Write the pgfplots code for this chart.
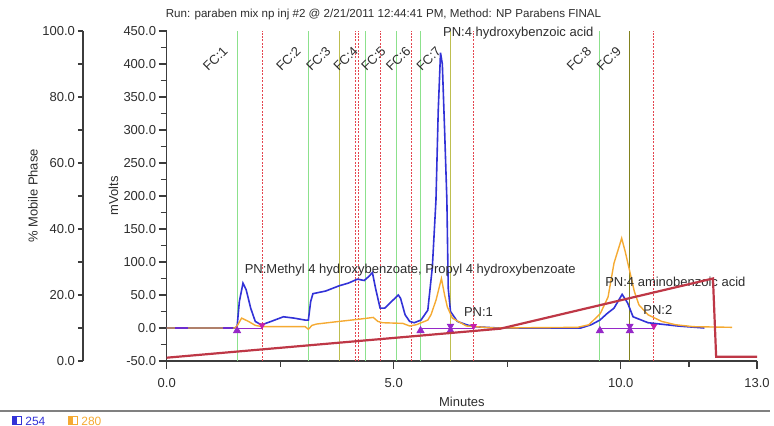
\documentclass[border=0pt]{standalone}
\usepackage{fontspec}
\setmainfont{Liberation Sans}
\usepackage{pgfplots}
\pgfplotsset{compat=1.18}
\definecolor{c254}{RGB}{50,50,215}
\definecolor{c280}{RGB}{245,170,50}
\definecolor{fcgreen}{RGB}{140,225,140}
\definecolor{fcred}{RGB}{228,70,80}
\definecolor{olivel}{RGB}{190,190,80}
\definecolor{olived}{RGB}{130,130,30}
\definecolor{mp}{RGB}{190,55,70}
\definecolor{pbase}{RGB}{150,40,200}
\definecolor{pmag}{RGB}{200,30,170}
\definecolor{axgray}{RGB}{60,60,60}
\definecolor{txt}{RGB}{45,45,45}
\newcommand{\sfs}{\fontsize{6.5}{7.5}\selectfont}
\begin{document}
\begin{tikzpicture}[x=1pt,y=1pt]
\useasboundingbox (-83.35,-32.5) rectangle (303.65,180.5);
\pgfplotsset{
  common/.style={
    at={(0,0)}, anchor=south west, scale only axis,
    width=295.15pt, height=165pt,
    xmin=0, xmax=13,
    axis line style={axgray, line width=0.7pt, -},
    tick align=outside, major tick length=4pt, minor tick length=3pt,
    tick style={axgray, line width=0.6pt},
    ticklabel style={font=\sfs, text=txt},
    /pgf/number format/assume math mode=true,
    yticklabel style={/pgf/number format/fixed, /pgf/number format/fixed zerofill, /pgf/number format/precision=1},
    label style={font=\sfs, text=txt},
  }
}
\begin{axis}[common, name=main,
  ymin=-50, ymax=450,
  axis x line*=bottom, axis y line*=left,
  clip mode=individual,
  xtick={0,5,10,13}, xticklabels={0.0,5.0,10.0,13.0}, minor xtick={2.5,7.5,11.5},
  ytick={-50,0,...,450}, minor ytick={-25,25,...,425},
  yticklabel style={xshift=2.2pt},
  xticklabel style={yshift=-1pt},
  xlabel={Minutes},
  xlabel style={at={(axis description cs:0.5,0)}, anchor=center, yshift=-20.5pt},
  ylabel={mVolts},
  ylabel style={at={(axis description cs:0,0.5)}, anchor=center, yshift=26.6pt},
]
% fraction collector / peak marker lines
\foreach \t in {1.55,3.12,4.38,5.05,5.59,9.54}{
  \edef\tmp{\noexpand\addplot[fcgreen, line width=0.5pt] coordinates {(\t,-50)(\t,450)};}\tmp
}
\foreach \t in {2.10,4.16,4.22,4.71,5.39,6.76,10.73}{
  \edef\tmp{\noexpand\addplot[fcred, line width=0.5pt, dash pattern=on 1pt off 0.7pt] coordinates {(\t,-50)(\t,450)};}\tmp
}
\addplot[olivel, line width=0.5pt] coordinates {(3.80,-50)(3.80,450)};
\addplot[olivel, line width=0.5pt] coordinates {(6.25,-50)(6.25,450)};
\addplot[olived, line width=0.5pt] coordinates {(10.20,-50)(10.20,450)};
% 254 nm
\addplot[c254, line width=0.8pt] coordinates {
(0,0)(1.50,0)(1.55,2)(1.60,40)(1.68,68)(1.75,58)(1.85,30)(1.95,10)(2.05,6)(2.10,5)
(2.30,10)(2.57,17)(2.80,15)(3.05,12)(3.12,12)(3.17,40)(3.22,52)(3.50,56)(3.80,64)
(4.00,68)(4.20,74)(4.35,72)(4.45,78)(4.53,84)(4.60,60)(4.70,30)(4.80,30)(4.95,40)
(5.10,50)(5.15,45)(5.25,20)(5.35,10)(5.45,8)(5.60,12)(5.75,27)(5.85,92)(5.93,194)
(5.98,330)(6.03,417)(6.07,400)(6.12,300)(6.17,194)(6.20,60)(6.25,25)(6.40,10)
(6.60,5)(6.76,2)(7.30,0)(9.12,0)(9.35,5)(9.54,12)(9.70,22)(9.85,30)(10.03,51)
(10.15,38)(10.27,17)(10.60,8)(11.26,3)(11.84,0)
};
% 280 nm
\addplot[c280, line width=0.7pt] coordinates {
(0,0)(1.50,0)(1.55,3)(1.65,15)(1.80,10)(1.95,4)(2.10,2)(2.50,2)(3.05,2)(3.12,-2)
(3.20,4)(3.30,6)(3.80,10)(4.20,13)(4.55,16)(4.65,10)(4.75,8)(5.20,7)(5.35,3)
(5.50,5)(5.75,12)(5.82,20)(5.93,42)(6.05,75)(6.12,50)(6.18,32)(6.29,15)(6.60,3)
(7.20,0)(9.05,1)(9.30,5)(9.55,22)(9.72,47)(9.85,98)(10.02,136)(10.10,115)
(10.20,85)(10.30,55)(10.40,35)(10.60,20)(10.90,10)(11.20,5)(11.60,2)(12.45,1)
};
\addplot[pbase!60!c254, line width=0.9pt] coordinates {(0.19,0)(0.47,0)};
\addplot[pbase!60!c254, line width=0.9pt] coordinates {(1.25,0)(1.47,0)};
% integration baselines
\addplot[pbase, line width=0.6pt] coordinates {(1.55,-1)(2.10,-1)};
\addplot[pbase, line width=0.6pt] coordinates {(5.59,-1)(6.76,-1)};
\addplot[pbase, line width=0.6pt] coordinates {(9.54,-1)(10.73,-1)};
\addplot[pbase, only marks, mark=triangle*, mark size=2pt] coordinates {(1.55,-4)(5.59,-4)(9.54,-4)(6.25,-4)(10.20,-4)};
\addplot[pbase, only marks, mark=triangle*, mark size=1.8pt, mark options={rotate=180}] coordinates {(6.25,3)(10.20,3)};
\addplot[pmag, only marks, mark=triangle*, mark size=1.6pt, mark options={rotate=180}] coordinates {(2.10,4)(6.76,3)(10.73,3)};
% labels
\foreach \t/\l in {1.07/1,2.68/2,3.34/3,3.94/4,4.55/5,5.10/6,5.77/7,9.08/8,9.74/9}{
  \edef\tmp{\noexpand\node[rotate=45, font=\noexpand\sfs, text=txt, inner sep=0pt] at (axis cs:\t,408) {FC:\l};}\tmp
}
\node[anchor=west, font=\sfs, text=txt, inner sep=0pt] at (axis cs:6.08,447) {PN:4 hydroxybenzoic acid};
\node[anchor=west, font=\sfs, text=txt, inner sep=0pt] at (axis cs:1.71,88) {PN:Methyl 4 hydroxybenzoate, Propyl 4 hydroxybenzoate};
\node[anchor=west, font=\sfs, text=txt, inner sep=0pt] at (axis cs:6.54,24) {PN:1};
\node[anchor=west, font=\sfs, text=txt, inner sep=0pt] at (axis cs:9.65,70) {PN:4 aminobenzoic acid};
\node[anchor=west, font=\sfs, text=txt, inner sep=0pt] at (axis cs:10.49,27) {PN:2};
\end{axis}
\begin{axis}[common,
  ymin=0, ymax=100,
  hide x axis, axis y line*=left, axis y line shift=41.85pt,
  ytick={0,20,...,100}, minor ytick={10,30,...,90},
  major tick length=2.5pt, minor tick length=2.5pt,
  yticklabel style={xshift=2pt},
  ylabel={\% Mobile Phase},
  ylabel style={at={(axis description cs:0,0.5)}, anchor=center, yshift=66.85pt},
]
\addplot[mp, line width=1.1pt] coordinates {(0,1)(7.35,9.8)(12.03,25)(12.10,1.3)(13,1.3)};
\end{axis}
\node[font=\fontsize{5.8}{7}\selectfont, text=txt] at (108.4,173) {Run: paraben mix np inj \#2 @ 2/21/2011 12:44:41 PM, Method: NP Parabens FINAL};
\draw[gray, line width=0.8pt] (-83.35,-25) -- (301.65,-25);
\fill[c254] (-76.85,-32) rectangle (-74.6,-28);
\draw[c254, line width=0.5pt] (-76.85,-32) rectangle (-72.35,-28);
\node[anchor=west, font=\fontsize{6}{7}\selectfont, text=c254, inner sep=0pt] at (-70.85,-30) {254};
\fill[c280] (-49.35,-32) rectangle (-47.1,-28);
\draw[c280, line width=0.5pt] (-49.35,-32) rectangle (-44.85,-28);
\node[anchor=west, font=\fontsize{6}{7}\selectfont, text=c280, inner sep=0pt] at (-42.85,-30) {280};
\end{tikzpicture}
\end{document}
